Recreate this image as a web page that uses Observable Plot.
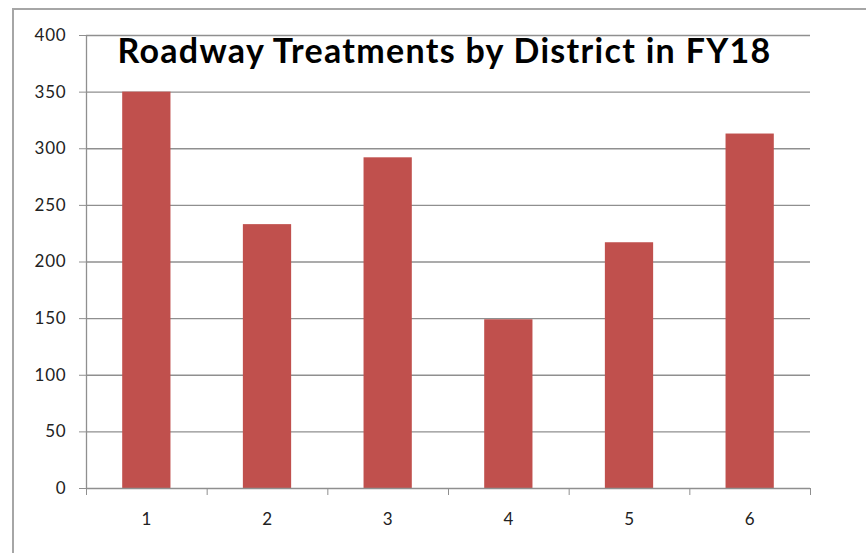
<!DOCTYPE html>
<html>
<head>
<meta charset="utf-8">
<script src="https://cdn.jsdelivr.net/npm/d3@7"></script>
<script src="https://cdn.jsdelivr.net/npm/@observablehq/plot@0.6"></script>
<style>
  html, body { margin: 0; padding: 0; background: #fff; }
  #chart { position: relative; width: 866px; height: 553px; overflow: hidden; }
  #chart svg { display: block; }
  /* chart area border (top and left edges visible) */
  #frame {
    position: absolute; left: 12px; top: 8px; width: 900px; height: 600px;
    border-top: 2px solid #a6a6a6; border-left: 2px solid #a6a6a6;
    box-sizing: border-box; pointer-events: none;
  }
</style>
</head>
<body>
<div id="chart"><div id="frame"></div></div>
<script>
const title = "Roadway Treatments by District in FY18";
const districts = [1, 2, 3, 4, 5, 6];
const treatments = [350, 233, 292, 149, 217, 313];
const yTicks = [0, 50, 100, 150, 200, 250, 300, 350, 400];

const data = districts.map((d, i) => ({district: d, value: treatments[i]}));
// category boundaries for the x-axis tick marks
const boundaries = districts.map(d => d - 0.5).concat([districts[districts.length - 1] + 0.5]);
const halfBar = 0.2;

const font = "Lato, 'Open Sans', sans-serif";
const grid = "#8f8f8f";

const chart = Plot.plot({
  width: 866,
  height: 553,
  marginLeft: 86,
  marginRight: 56,
  marginTop: 35,
  marginBottom: 65,
  style: {fontFamily: font, fontSize: "17px", background: "transparent", overflow: "visible"},
  x: {type: "linear", domain: [boundaries[0], boundaries[boundaries.length - 1]], axis: null},
  y: {domain: [0, 400], axis: null},
  marks: [
    Plot.ruleY(yTicks.filter(t => t > 0), {stroke: grid, strokeWidth: 1.3}),
    Plot.rectY(data, {
      x1: d => d.district - halfBar,
      x2: d => d.district + halfBar,
      y: "value",
      fill: "#C0504D"
    }),
    Plot.ruleY([0], {stroke: grid, strokeWidth: 1.3}),
    Plot.ruleX([boundaries[0]], {stroke: grid, strokeWidth: 1.3}),
    Plot.axisY({ticks: yTicks, tickSize: 7, tickPadding: 13, stroke: grid, fill: "#222", label: null, fontSize: 17}),
    Plot.axisX({ticks: boundaries, tickFormat: () => "", tickSize: 7, stroke: grid, label: null}),
    Plot.axisX({ticks: districts, tickFormat: d => String(d), tickSize: 0, tickPadding: 24, fill: "#222", label: null, fontSize: 17}),
    Plot.text([title], {
      frameAnchor: "top",
      lineAnchor: "bottom",
      dy: 27,
      dx: -4,
      fontSize: 34,
      fontWeight: "bold",
      fill: "#000"
    })
  ]
});

// widen the lettering a little, Calibri-style proportions
d3.select(chart).selectAll("text")
  .style("letter-spacing", function () { return this.textContent === title ? "1.3px" : "0.8px"; });

document.getElementById("chart").prepend(chart);
</script>
</body>
</html>
